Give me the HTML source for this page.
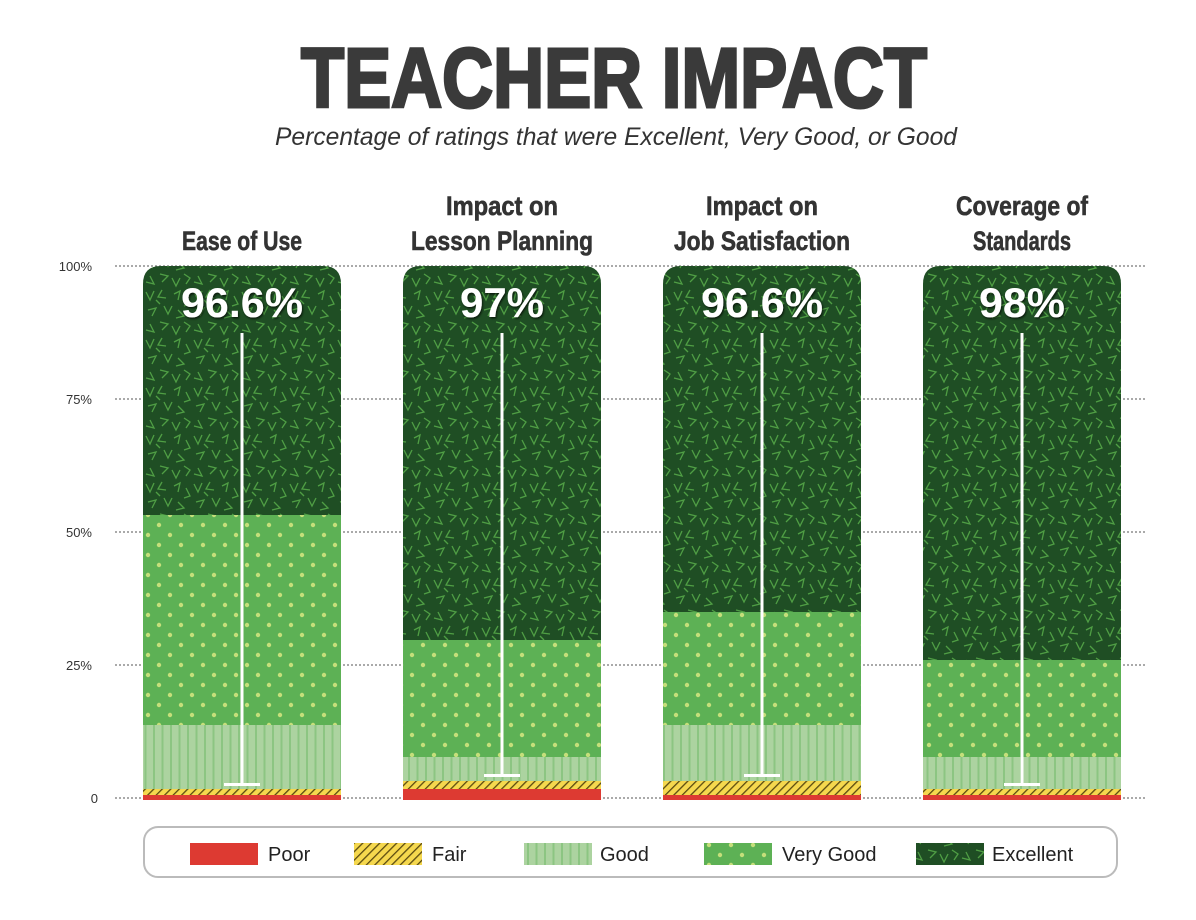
<!DOCTYPE html>
<html><head><meta charset="utf-8"><style>
html,body{margin:0;padding:0;background:#fff;}
svg{display:block;}
</style></head><body>
<svg width="1196" height="920" viewBox="0 0 1196 920" xmlns="http://www.w3.org/2000/svg" font-family="Liberation Sans, sans-serif">
<defs>
<pattern id="ex" width="48" height="48" patternUnits="userSpaceOnUse">
<rect width="48" height="48" fill="#1f4e24"/>
<g stroke="#4f9e44" stroke-width="1.3" fill="none">
<polyline points="2,4 6,12 10,3"/><polyline points="18,2 14,9 22,10"/><polyline points="30,6 36,3 34,12"/>
<polyline points="42,8 46,16 40,18"/><polyline points="4,22 12,20 8,28"/><polyline points="20,18 24,26 28,18"/>
<polyline points="34,22 40,28 32,30"/><polyline points="6,36 10,44 2,42"/><polyline points="16,34 24,36 18,42"/>
<polyline points="28,38 32,46 36,38"/><polyline points="40,34 46,38 42,44"/><polyline points="12,12 16,16"/>
</g>
</pattern>
<pattern id="vg" width="22" height="20" patternUnits="userSpaceOnUse">
<rect width="22" height="20" fill="#5db155"/>
<circle cx="5" cy="5" r="2.2" fill="#c5df7a"/><circle cx="16" cy="15" r="2.2" fill="#c5df7a"/>
</pattern>
<pattern id="gd" width="8.5" height="10" patternUnits="userSpaceOnUse">
<rect width="8.5" height="10" fill="#acd3a0"/><rect x="0" width="2" height="10" fill="#8cc582"/>
</pattern>
<pattern id="fr" width="6" height="6" patternUnits="userSpaceOnUse" patternTransform="rotate(45)">
<rect width="6" height="6" fill="#f5d84e"/><rect width="1.3" height="6" fill="#5a4a10"/>
</pattern>
<filter id="sh"><feDropShadow dx="1" dy="1.5" stdDeviation="1" flood-color="#000" flood-opacity="0.7"/></filter>
<clipPath id="c1"><path d="M143,800 V284 Q143,266 161,266 H323 Q341,266 341,284 V800Z"/></clipPath>
<clipPath id="c2"><path d="M403,800 V284 Q403,266 421,266 H583 Q601,266 601,284 V800Z"/></clipPath>
<clipPath id="c3"><path d="M663,800 V284 Q663,266 681,266 H843 Q861,266 861,284 V800Z"/></clipPath>
<clipPath id="c4"><path d="M923,800 V284 Q923,266 941,266 H1103 Q1121,266 1121,284 V800Z"/></clipPath>
</defs>

<text x="614" y="107" text-anchor="middle" font-size="84" font-weight="bold" fill="#3a3a3a" stroke="#3a3a3a" stroke-width="3" textLength="626" lengthAdjust="spacingAndGlyphs">TEACHER IMPACT</text>
<text x="616" y="145" text-anchor="middle" font-size="25" font-style="italic" fill="#333" textLength="682" lengthAdjust="spacingAndGlyphs">Percentage of ratings that were Excellent, Very Good, or Good</text>

<g font-size="27" font-weight="bold" fill="#333" stroke="#333" stroke-width="0.6" text-anchor="middle">
<text x="242" y="250" textLength="120" lengthAdjust="spacingAndGlyphs">Ease of Use</text>
<text x="502" y="215" textLength="112" lengthAdjust="spacingAndGlyphs">Impact on</text>
<text x="502" y="250" textLength="182" lengthAdjust="spacingAndGlyphs">Lesson Planning</text>
<text x="762" y="215" textLength="112" lengthAdjust="spacingAndGlyphs">Impact on</text>
<text x="762" y="250" textLength="176" lengthAdjust="spacingAndGlyphs">Job Satisfaction</text>
<text x="1022" y="215" textLength="132" lengthAdjust="spacingAndGlyphs">Coverage of</text>
<text x="1022" y="250" textLength="98" lengthAdjust="spacingAndGlyphs">Standards</text>
</g>

<g stroke="#777" stroke-width="1.2" stroke-dasharray="2,2">
<line x1="115" y1="266" x2="1145" y2="266"/><line x1="115" y1="399" x2="1145" y2="399"/>
<line x1="115" y1="532" x2="1145" y2="532"/><line x1="115" y1="665" x2="1145" y2="665"/>
<line x1="115" y1="798" x2="1145" y2="798"/>
</g>
<g font-size="13" fill="#333" text-anchor="end">
<text x="92" y="271">100%</text><text x="92" y="404">75%</text><text x="92" y="537">50%</text><text x="92" y="670">25%</text><text x="98" y="803">0</text>
</g>

<g clip-path="url(#c1)">
<rect x="143" y="266" width="198" height="250" fill="url(#ex)"/>
<rect x="143" y="515" width="198" height="210" fill="url(#vg)"/>
<rect x="143" y="725" width="198" height="64" fill="url(#gd)"/>
<rect x="143" y="789" width="198" height="6" fill="url(#fr)"/>
<rect x="143" y="795" width="198" height="5" fill="#dd3a32"/>
</g>
<g clip-path="url(#c2)">
<rect x="403" y="266" width="198" height="375" fill="url(#ex)"/>
<rect x="403" y="640" width="198" height="117" fill="url(#vg)"/>
<rect x="403" y="757" width="198" height="24" fill="url(#gd)"/>
<rect x="403" y="781" width="198" height="8" fill="url(#fr)"/>
<rect x="403" y="789" width="198" height="11" fill="#dd3a32"/>
</g>
<g clip-path="url(#c3)">
<rect x="663" y="266" width="198" height="347" fill="url(#ex)"/>
<rect x="663" y="612" width="198" height="113" fill="url(#vg)"/>
<rect x="663" y="725" width="198" height="56" fill="url(#gd)"/>
<rect x="663" y="781" width="198" height="14" fill="url(#fr)"/>
<rect x="663" y="795" width="198" height="5" fill="#dd3a32"/>
</g>
<g clip-path="url(#c4)">
<rect x="923" y="266" width="198" height="395" fill="url(#ex)"/>
<rect x="923" y="660" width="198" height="97" fill="url(#vg)"/>
<rect x="923" y="757" width="198" height="32" fill="url(#gd)"/>
<rect x="923" y="789" width="198" height="6" fill="url(#fr)"/>
<rect x="923" y="795" width="198" height="5" fill="#dd3a32"/>
</g>

<g fill="#fff">
<rect x="240.5" y="333" width="3" height="452"/><rect x="224" y="783" width="36" height="3"/>
<rect x="500.5" y="333" width="3" height="443"/><rect x="484" y="774" width="36" height="3"/>
<rect x="760.5" y="333" width="3" height="443"/><rect x="744" y="774" width="36" height="3"/>
<rect x="1020.5" y="333" width="3" height="452"/><rect x="1004" y="783" width="36" height="3"/>
</g>

<g font-size="42" font-weight="bold" fill="#fff" text-anchor="middle" filter="url(#sh)">
<text x="242" y="317" textLength="122" lengthAdjust="spacingAndGlyphs">96.6%</text>
<text x="502" y="317" textLength="84" lengthAdjust="spacingAndGlyphs">97%</text>
<text x="762" y="317" textLength="122" lengthAdjust="spacingAndGlyphs">96.6%</text>
<text x="1022" y="317" textLength="86" lengthAdjust="spacingAndGlyphs">98%</text>
</g>

<rect x="144" y="827" width="973" height="50" rx="14" fill="#fff" stroke="#bbb" stroke-width="2"/>
<rect x="190" y="843" width="68" height="22" fill="#dd3a32"/>
<rect x="354" y="843" width="68" height="22" fill="url(#fr)"/>
<rect x="524" y="843" width="68" height="22" fill="url(#gd)"/>
<rect x="704" y="843" width="68" height="22" fill="url(#vg)"/>
<rect x="916" y="843" width="68" height="22" fill="url(#ex)"/>
<g font-size="20" fill="#222">
<text x="268" y="861">Poor</text>
<text x="432" y="861">Fair</text>
<text x="600" y="861">Good</text>
<text x="782" y="861">Very Good</text>
<text x="992" y="861">Excellent</text>
</g>
</svg>
</body></html>
